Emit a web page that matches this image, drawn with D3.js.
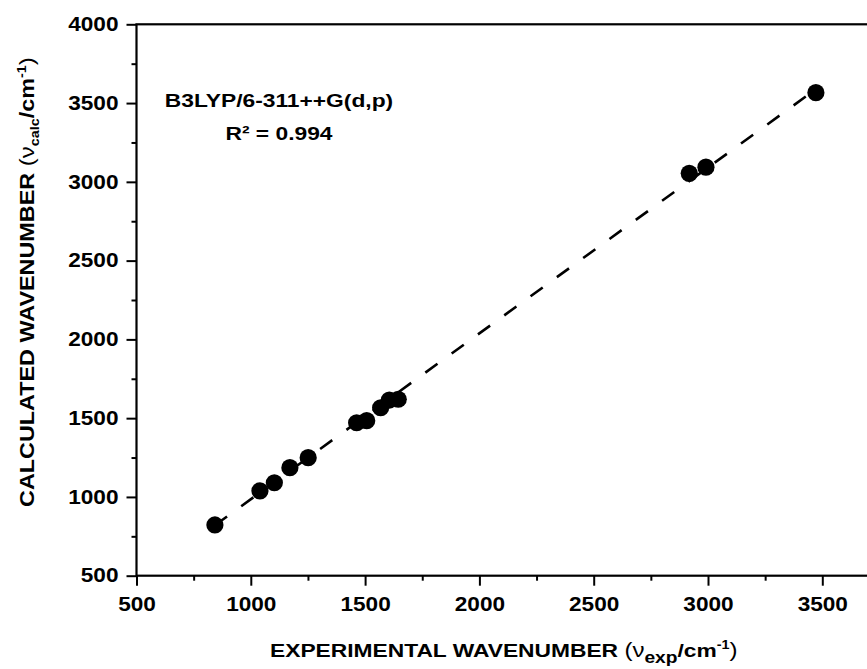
<!DOCTYPE html>
<html>
<head>
<meta charset="utf-8">
<script src="https://cdn.jsdelivr.net/npm/d3@7"></script>
<style>
  body { margin: 0; background: #fff; overflow: hidden; }
  text { font-family: "Liberation Sans", Arial, sans-serif; font-weight: bold; fill: #000; }
</style>
</head>
<body>
<div id="chart"></div>
<script>
// ---------- data
var expWave  = [843, 1040, 1103, 1171, 1251, 1463, 1507, 1568, 1606, 1645, 2918, 2991, 3472];
var calcWave = [822, 1038, 1090, 1186, 1249, 1471, 1484, 1566, 1615, 1620, 3054, 3093, 3566];

// dashed linear fit (end points)
var fitX = [843, 3472];
var fitY = [820, 3588];

// x axis is cut at the window edge, so its last labelled tick is 3500
var xTicks = [500, 1000, 1500, 2000, 2500, 3000, 3500];
var yTicks = [500, 1000, 1500, 2000, 2500, 3000, 3500, 4000];
var minorTicks = [750, 1250, 1750, 2250, 2750, 3250, 3750];

var methodLabel = "B3LYP/6-311++G(d,p)";
var r2Label = "R\u00B2 = 0.994";

function drawChart() {
  var svgWidth = 867, svgHeight = 669;
  var SX = 1.2;      // fonts in the picture are wider than Liberation Sans
  var tickSX = 1.16;

  var svg = d3.select("#chart")
    .append("svg")
    .attr("width", svgWidth)
    .attr("height", svgHeight);

  svg.append("rect")
    .attr("width", svgWidth)
    .attr("height", svgHeight)
    .attr("fill", "#fff");

  // plot box runs past the right edge of the window (4000 is off screen)
  var plotLeft = 136.5, plotTop = 24.3, plotBottom = 575.7, plotRight = 936.6;

  var xScale = d3.scaleLinear().domain([500, 4000]).range([plotLeft, plotRight]);
  var yScale = d3.scaleLinear().domain([500, 4000]).range([plotBottom, plotTop]);

  // ---------- axes
  var xAxis = svg.append("g")
    .attr("class", "x axis")
    .attr("transform", `translate(0, ${plotBottom})`)
    .call(d3.axisBottom(xScale).tickValues(xTicks).tickSize(10).tickPadding(11).tickFormat(d3.format("d")));

  svg.append("g")
    .attr("transform", `translate(0, ${plotBottom})`)
    .call(d3.axisBottom(xScale).tickValues(minorTicks).tickSize(5).tickFormat(""));

  var yAxis = svg.append("g")
    .attr("class", "y axis")
    .attr("transform", `translate(${plotLeft}, 0)`)
    .call(d3.axisLeft(yScale).tickValues(yTicks).tickSize(10).tickPadding(8).tickFormat(d3.format("d")));

  svg.append("g")
    .attr("transform", `translate(${plotLeft}, 0)`)
    .call(d3.axisLeft(yScale).tickValues(minorTicks).tickSize(5).tickFormat(""));

  svg.selectAll(".domain").remove();
  svg.selectAll(".tick line").attr("stroke", "#000").attr("stroke-width", 2);
  svg.selectAll(".tick text")
    .attr("font-size", 19.5)
    .attr("font-family", "'Liberation Sans', Arial, sans-serif")
    .attr("font-weight", "bold")
    .attr("fill", "#000");

  // widen the tick labels around their anchor
  xAxis.selectAll(".tick text").attr("transform", `scale(${tickSX}, 1)`);
  yAxis.selectAll(".tick text").each(function() {
    var t = d3.select(this);
    var x0 = +t.attr("x");
    t.attr("x", 0).attr("transform", `translate(${x0}, 0) scale(${tickSX}, 1)`);
  });

  // frame
  svg.append("rect")
    .attr("x", xScale(500))
    .attr("y", yScale(4000))
    .attr("width", xScale(4000) - xScale(500))
    .attr("height", yScale(500) - yScale(4000))
    .attr("fill", "none")
    .attr("stroke", "#000")
    .attr("stroke-width", 2.2);

  // ---------- fit line
  var fitData = fitX.map((d, i) => ({x: d, y: fitY[i]}));
  svg.append("path")
    .datum(fitData)
    .attr("d", d3.line().x(d => xScale(d.x)).y(d => yScale(d.y)))
    .attr("fill", "none")
    .attr("stroke", "#000")
    .attr("stroke-width", 2.6)
    .attr("stroke-dasharray", "15,17.5");

  // ---------- points
  var points = expWave.map((d, i) => ({x: d, y: calcWave[i]}));
  svg.selectAll("circle.pt")
    .data(points)
    .enter()
    .append("circle")
    .attr("class", "pt")
    .attr("cx", d => xScale(d.x))
    .attr("cy", d => yScale(d.y))
    .attr("r", 8.6)
    .attr("fill", "#000");

  // ---------- annotation
  svg.append("text")
    .attr("transform", `translate(279, 106.7) scale(${SX}, 1)`)
    .attr("text-anchor", "middle")
    .style("font-size", "19px")
    .text(methodLabel);

  svg.append("text")
    .attr("transform", `translate(279, 140) scale(${SX}, 1)`)
    .attr("text-anchor", "middle")
    .style("font-size", "19px")
    .text(r2Label);

  // ---------- axis titles
  var xTitle = svg.append("text")
    .attr("transform", `translate(270, 657) scale(${SX}, 1)`)
    .style("font-size", "19px");
  xTitle.append("tspan").text("EXPERIMENTAL WAVENUMBER ");
  xTitle.append("tspan").style("font-weight", "normal").style("font-size", "20px").text("(\u03BD");
  xTitle.append("tspan").attr("dy", 6).style("font-size", "16px").text("exp");
  xTitle.append("tspan").attr("dy", -6).text("/cm");
  xTitle.append("tspan").attr("dy", -8).style("font-size", "12px").text("-1");
  xTitle.append("tspan").attr("dy", 8).style("font-weight", "normal").style("font-size", "20px").text(")");

  var yTitle = svg.append("text")
    .attr("transform", `translate(34.3, 507) rotate(-90) scale(${SX}, 1)`)
    .style("font-size", "19.5px");
  yTitle.append("tspan").text("CALCULATED WAVENUMBER ");
  yTitle.append("tspan").style("font-weight", "normal").style("font-size", "20px").text("(\u03BD");
  yTitle.append("tspan").attr("dy", 5).style("font-size", "12px").text("calc");
  yTitle.append("tspan").attr("dy", -5).text("/cm");
  yTitle.append("tspan").attr("dy", -8).style("font-size", "12px").text("-1");
  yTitle.append("tspan").attr("dy", 8).style("font-weight", "normal").style("font-size", "20px").text(")");
}

drawChart();
</script>
</body>
</html>
